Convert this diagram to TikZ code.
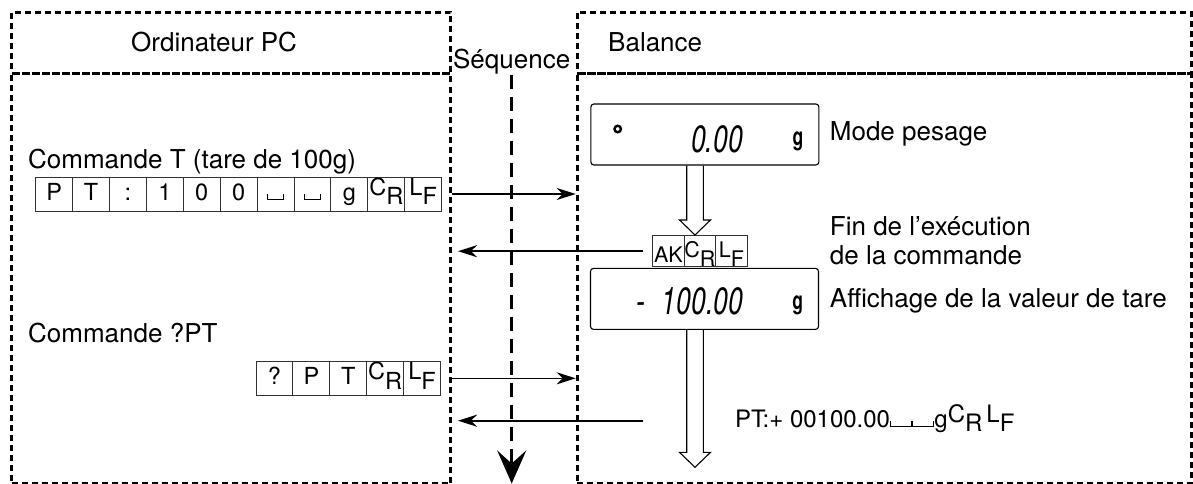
\documentclass[tikz,border=0pt]{standalone}
\usepackage{fontspec}
\setmainfont{TeX Gyre Heros}
\usepackage{graphicx}
\usetikzlibrary{arrows.meta,calc,positioning}
\newcommand\blank[1][15pt]{\rule{1.1pt}{6pt}\rule{#1}{1.1pt}\rule{1.1pt}{6pt}}
\newcommand\ctl[2]{\raisebox{.2em}{#1}\raisebox{-.2em}{#2}}
\newcommand\lcd[1]{\scalebox{.7}[1]{\fontsize{38}{38}\selectfont\itshape #1}}
\newcommand\lcdunit{\scalebox{.7}[1]{\fontsize{25}{25}\selectfont\bfseries g}}

\begin{document}
\begin{tikzpicture}[x=1pt,y=-1pt,font=\fontsize{26}{31}\selectfont,>=Stealth,
panel/.style={draw,line width=3pt,dash pattern=on 6pt off 4pt,minimum width=#1,anchor=north west},
lbl/.style={inner sep=0pt,anchor=base west},
cell/.style={draw=black!80,line width=.9pt,minimum width=36.9pt,minimum height=34pt,inner sep=0pt,text height=17pt,text depth=5pt,font=\fontsize{23.5}{23.5}\selectfont},
ack/.style={cell,minimum width=31.5pt,minimum height=31pt,text height=22pt,text depth=0pt,font=\fontsize{21.5}{21.5}\selectfont},
disp/.style={draw,rounded corners=3pt,line width=1.1pt,minimum width=228pt,minimum height=61pt},
send/.style={-{Stealth[length=19pt,width=12pt,inset=6pt]},line width=1.5pt},
back/.style={send,line width=2pt,shorten >=6pt},
hollow/.style={line width=1.1pt,to path={($(\tikztostart)+(-8.3,0)$) -- ($(\tikztotarget)+(-8.3,-15)$) -- ($(\tikztotarget)+(-15.5,-15)$) -- (\tikztotarget) -- ($(\tikztotarget)+(15.5,-15)$) -- ($(\tikztotarget)+(8.3,-15)$) -- ($(\tikztostart)+(8.3,0)$)}},
seqline/.style={-{Stealth[length=33pt,width=29pt,inset=13pt]},line width=3pt,dash pattern=on 14pt off 8pt}]
\useasboundingbox (0,0) rectangle (1193,484);
\node[panel=439pt,minimum height=61pt] (pchead) at (10,10.7) {};
\node[panel=439pt,minimum height=410.3pt] (pc) at (10,71.7) {};
\node[panel=614pt,minimum height=61pt] (balhead) at (575.7,10.7) {};
\node[panel=614pt,minimum height=410.3pt] (bal) at (575.7,71.7) {};
\node[lbl] (pctitle) at (131,52) {Ordinateur PC};
\node[lbl] (baltitle) at (608,52) {Balance};
\node[lbl,anchor=base] (seq) at (511.7,69) {Séquence};
\node[lbl] (cmdt) at (28,168) {Commande T (tare de 100g)};
\node[lbl] (cmdq) at (28,342) {Commande ?PT};
\node[lbl] (mode) at (829.7,140) {Mode pesage};
\node[lbl] (fin) at (829.7,235) {Fin de l’exécution};
\node[lbl] (fin2) at (829.7,264) {de la commande};
\node[lbl] (aff) at (829.7,307) {Affichage de la valeur de tare};
\node[lbl,font=\fontsize{24}{24}\selectfont] (reply) at (735,427) {PT:+ 00100.00\blank[20pt]\blank[20pt]g\ctl{C}{R}\,\ctl{L}{F}};
\foreach \c [count=\i] in {P,T,:,1,0,0,\blank,\blank,g,\ctl{C}{R},\ctl{L}{F}}
  \node[cell] (t\i) at ({35.7+36.9*(\i-.5)},194) {\c};
\foreach \c [count=\i] in {?,P,T,\ctl{C}{R},\ctl{L}{F}}
  \node[cell,minimum height=33.3pt] (q\i) at ({256+36.9*(\i-.5)},378.3) {\c};
\foreach \c [count=\i] in {AK,\ctl{C}{R},\ctl{L}{F}}
  \node[ack] (a\i) at ({652.7+31.5*(\i-.5)},251.2) {\c};
\node[disp] (disp1) at (704.9,134.5) {};
\node[disp] (disp2) at (704.5,298.9) {};
\node[circle,draw,line width=2.4pt,minimum size=6.5pt,inner sep=0pt] (stab) at (617.7,129) {};
\node[inner sep=0pt,anchor=base east] (w1) at (743,153) {\lcd{0.00}};
\node[inner sep=0pt,anchor=base east] (w2) at (743.3,314) {\lcd{-\hspace{24pt}100.00}};
\node[inner sep=0pt] (u1) at (798,141) {\lcdunit};
\node[inner sep=0pt] (u2) at (797.7,305.5) {\lcdunit};
\coordinate (tip1) at (695,235);
\coordinate (tip2) at (695,467.3);
\coordinate (rep) at (643.3,420.7);
\coordinate (seqend) at (511.7,483.5);
\draw[hollow] (disp1.south -| tip1) to (tip1);
\draw[hollow] (disp2.south -| tip2) to (tip2);
\draw[seqline] (seq.south) -- (seqend);
\draw[send] (pc.east |- t11) -- (bal.west |- t11);
\draw[back] ([xshift=-9.4pt]a1.west) -- (pc.east |- a1);
\draw[send] (pc.east |- q5) -- (bal.west |- q5);
\draw[back] (rep) -- (pc.east |- rep);
\end{tikzpicture}
\end{document}
